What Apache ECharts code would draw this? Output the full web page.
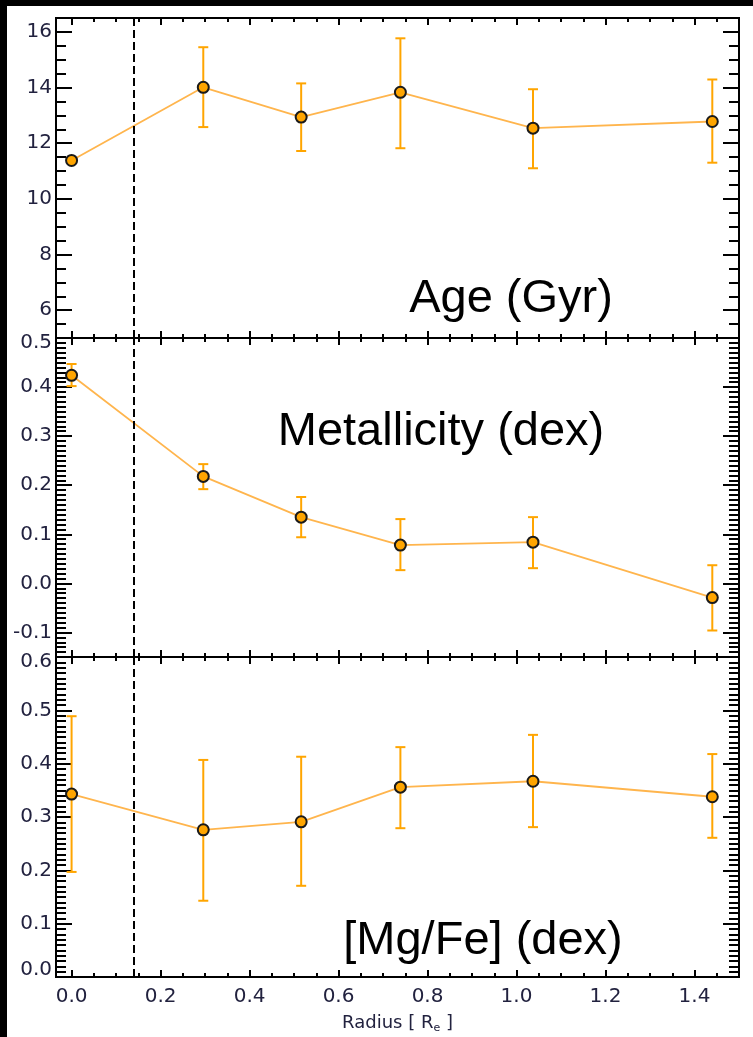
<!DOCTYPE html>
<html><head><meta charset="utf-8">
<script src="https://cdn.jsdelivr.net/npm/echarts@6/dist/echarts.min.js"></script>
<style>html,body{margin:0;padding:0;background:#fff;}#c{width:753px;height:1037px;}</style>
</head><body><div id="c"></div><script>
// ---------------- data ----------------
const radius   = [0.0, 0.296, 0.516, 0.739, 1.037, 1.440];
const age      = [11.38, 14.01, 12.94, 13.83, 12.54, 12.78];
const ageLo    = [11.38, 12.58, 11.72, 11.82, 11.10, 11.30];
const ageHi    = [11.38, 15.45, 14.15, 15.77, 13.94, 14.29];
const metal    = [0.424, 0.218, 0.135, 0.078, 0.084, -0.029];
const metalLo  = [0.402, 0.192, 0.094, 0.027, 0.031, -0.096];
const metalHi  = [0.447, 0.243, 0.176, 0.131, 0.135, 0.037];
const mgfe     = [0.343, 0.276, 0.291, 0.356, 0.367, 0.338];
const mgfeLo   = [0.197, 0.143, 0.171, 0.279, 0.281, 0.261];
const mgfeHi   = [0.489, 0.407, 0.413, 0.431, 0.454, 0.418];
const DASH_X   = 0.145;

// tick labels
const xTicks     = [0.0, 0.2, 0.4, 0.6, 0.8, 1.0, 1.2, 1.4];
const ageTicks   = [6, 8, 10, 12, 14, 16];
const metalTicks = [-0.1, 0.0, 0.1, 0.2, 0.3, 0.4, 0.5];
const mgfeTicks  = [0.0, 0.1, 0.2, 0.3, 0.4, 0.5, 0.6];
const panelTitles = ['Age (Gyr)', 'Metallicity (dex)', '[Mg/Fe] (dex)'];
const xTitle = 'Radius [ R{s|e} ]';

// minor ticks
const xMinor = []; for (let k = 1; k < 30; k++) if (k % 4 !== 0) xMinor.push(k * 0.05);
const ageMinor = []; for (let k = 11; k < 33; k++) if (k % 4 !== 0) ageMinor.push(k / 2);
const metalMinor = []; for (let k = -14; k < 50; k++) if (k % 10 !== 0) metalMinor.push(k / 100);
const mgfeMinor = []; for (let k = 1; k < 60; k++) if (k % 10 !== 0) mgfeMinor.push(k / 100);

// ---------------- layout ----------------
const X_MIN = -0.035, X_MAX = 1.5;
const FONT = 'DejaVu Sans';
const LBL_COLOR = '#22223f';
const TICK_LS = {color: '#000', width: 2};
const panels = [
  {top: 18, height: 320, min: 5, max: 16.5, major: ageTicks, minor: ageMinor, fmt: v => String(Math.round(v)),
   vals: age, lo: ageLo, hi: ageHi, topVal: null, botVal: null},
  {top: 338, height: 319, min: -0.15, max: 0.5, major: metalTicks, minor: metalMinor, fmt: v => v.toFixed(1),
   vals: metal, lo: metalLo, hi: metalHi, topVal: 0.5, botVal: null},
  {top: 657, height: 320, min: 0, max: 0.6, major: mgfeTicks, minor: mgfeMinor, fmt: v => v.toFixed(1),
   vals: mgfe, lo: mgfeLo, hi: mgfeHi, topVal: 0.6, botVal: 0.0}
];

const grids = [], xAxes = [], yAxes = [], series = [];
const baseLbl = {fontFamily: FONT, fontSize: 20, color: LBL_COLOR};

panels.forEach((p, pi) => {
  for (let layer = 0; layer < 2; layer++) {
    const gi = grids.length;
    const isMajor = layer === 0;
    grids.push({left: 56, right: 14, top: p.top, height: p.height,
      show: isMajor, borderColor: '#000', borderWidth: 2});
    const xv = isMajor ? xTicks : xMinor;
    const yv = isMajor ? p.major : p.minor;
    ['bottom', 'top'].forEach(pos => {
      const ax = {type: 'value', gridIndex: gi, position: pos, min: X_MIN, max: X_MAX,
        splitLine: {show: false}, axisLine: {show: false, onZero: false},
        axisTick: {show: true, inside: true, length: isMajor ? 7 : 4, customValues: xv, lineStyle: TICK_LS},
        axisLabel: {show: false}};
      if (isMajor && pos === 'bottom' && pi === 2) {
        ax.axisLabel = Object.assign({show: true, customValues: xTicks, margin: 10,
          formatter: v => v.toFixed(1)}, baseLbl);
        ax.name = xTitle;
        ax.nameLocation = 'middle';
        ax.nameGap = 36;
        ax.nameTextStyle = {fontFamily: FONT, fontSize: 18, color: LBL_COLOR,
          rich: {s: {fontFamily: FONT, fontSize: 11, color: LBL_COLOR, padding: [10, 0, 0, 0]}}};
      }
      xAxes.push(ax);
    });
    ['left', 'right'].forEach(pos => {
      const ax = {type: 'value', gridIndex: gi, position: pos, min: p.min, max: p.max,
        splitLine: {show: false}, axisLine: {show: false, onZero: false},
        axisTick: {show: true, inside: true, length: isMajor ? 16 : 10, customValues: yv, lineStyle: TICK_LS},
        axisLabel: {show: false}};
      if (isMajor && pos === 'left') {
        ax.axisLabel = Object.assign({show: true, customValues: p.major, margin: 4,
          formatter: v => {
            const t = p.fmt(v);
            if (p.topVal !== null && Math.abs(v - p.topVal) < 1e-6) return '{t|' + t + '}';
            if (p.botVal !== null && Math.abs(v - p.botVal) < 1e-6) return '{b|' + t + '}';
            return t;
          },
          rich: {
            t: Object.assign({padding: [10, 0, 0, 0]}, baseLbl),
            b: Object.assign({padding: [0, 0, 14, 0]}, baseLbl)
          }}, baseLbl);
      }
      yAxes.push(ax);
    });
  }
  const axIdx = pi * 4; // major grid bottom x / left y
  const errData = radius.map((r, i) => [r, p.lo[i], p.hi[i]]);
  series.push({
    type: 'custom', xAxisIndex: axIdx, yAxisIndex: axIdx, z: 2, silent: true,
    data: errData, encode: {x: 0, y: [1, 2]},
    renderItem: (params, api) => {
      const x = api.value(0);
      const a = api.coord([x, api.value(2)]);
      const b = api.coord([x, api.value(1)]);
      if (Math.abs(a[1] - b[1]) < 1) return {type: 'group', children: []};
      const st = {stroke: '#FFA500', lineWidth: 2};
      return {type: 'group', children: [
        {type: 'line', shape: {x1: a[0], y1: a[1], x2: b[0], y2: b[1]}, style: st},
        {type: 'line', shape: {x1: a[0] - 5, y1: a[1], x2: a[0] + 5, y2: a[1]}, style: st},
        {type: 'line', shape: {x1: b[0] - 5, y1: b[1], x2: b[0] + 5, y2: b[1]}, style: st}
      ]};
    }
  });
  series.push({
    type: 'line', xAxisIndex: axIdx, yAxisIndex: axIdx, z: 3,
    data: radius.map((r, i) => [r, p.vals[i]]),
    symbol: 'circle', symbolSize: 11,
    itemStyle: {color: '#FFA500', borderColor: '#1a1a1a', borderWidth: 2},
    lineStyle: {color: '#FFB54D', width: 1.8},
    markLine: {silent: true, symbol: ['none', 'none'], label: {show: false},
      lineStyle: {color: '#000', width: 2, type: [8, 4]},
      data: [{xAxis: DASH_X}]}
  });
});

const titlePos = [[511, 299], [441, 432], [483, 941]];
const graphic = [
  {type: 'rect', left: 0, top: 0, shape: {width: 7, height: 1037}, style: {fill: '#000'}, z: 100},
  {type: 'rect', left: 0, top: 0, shape: {width: 753, height: 6}, style: {fill: '#000'}, z: 100}
];
panelTitles.forEach((t, i) => {
  graphic.push({type: 'text', x: titlePos[i][0], y: titlePos[i][1], z: 50,
    style: {text: t, fontFamily: 'Liberation Sans', fontSize: 47, fill: '#000',
      textAlign: 'center', textVerticalAlign: 'middle'}});
});

const chart = echarts.init(document.getElementById('c'), null, {renderer: 'canvas'});
chart.setOption({
  animation: false,
  backgroundColor: '#fff',
  grid: grids, xAxis: xAxes, yAxis: yAxes, series: series, graphic: graphic
});
</script></body></html>
